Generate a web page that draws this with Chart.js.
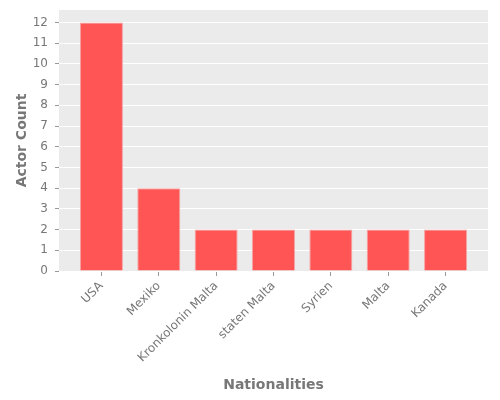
<!DOCTYPE html>
<html>
<head>
<meta charset="utf-8">
<script src="https://cdn.jsdelivr.net/npm/chart.js@4"></script>
<style>
  html, body { margin: 0; padding: 0; background: #fff; }
  #wrap { width: 500px; height: 400px; }
</style>
</head>
<body>
<div id="wrap"><canvas id="chart"></canvas></div>
<script>
const NATIONALITIES = ['USA', 'Mexiko', 'Kronkolonin Malta', 'staten Malta', 'Syrien', 'Malta', 'Kanada'];
const ACTOR_COUNTS = [12, 4, 2, 2, 2, 2, 2];
const Y_TICKS = [0, 1, 2, 3, 4, 5, 6, 7, 8, 9, 10, 11, 12];

const FONT = 'DejaVu Sans';
const tickColor = '#777777';
const titleColor = '#777777';

// grey panel behind the plot, ggplot style
const panelBg = {
  id: 'panelBg',
  beforeDraw(chart) {
    const { ctx, chartArea: a } = chart;
    ctx.save();
    ctx.fillStyle = '#EBEBEB';
    ctx.fillRect(a.left, a.top, a.right - a.left, a.bottom - a.top);
    ctx.restore();
  },
};

const points = ACTOR_COUNTS.map((v, i) => ({ x: i, y: v }));

new Chart(document.getElementById('chart'), {
  type: 'bar',
  data: {
    datasets: [
      {
        label: 'Actor Count',
        data: points,
        backgroundColor: '#FF5555',
        borderColor: '#F7A3A3',
        borderWidth: 1,
        categoryPercentage: 1,
        barPercentage: 0.75,
      },
    ],
  },
  options: {
    responsive: true,
    maintainAspectRatio: false,
    animation: false,
    layout: { padding: { left: 0, top: 10, right: 12, bottom: 0 } },
    plugins: {
      legend: { display: false },
      tooltip: { enabled: false },
    },
    scales: {
      x: {
        type: 'linear',
        offset: false,
        min: -0.74,
        max: 6.74,
        afterBuildTicks: (axis) => {
          axis.ticks = NATIONALITIES.map((_, i) => ({ value: i }));
        },
        afterFit: (axis) => {
          axis.height = 129;
          axis.paddingLeft = 0;
          axis.paddingRight = 0;
        },
        border: { display: false },
        grid: { offset: false, drawOnChartArea: false, color: '#999999', tickLength: 5 },
        ticks: {
          autoSkip: false,
          minRotation: 45,
          maxRotation: 45,
          padding: 3,
          color: tickColor,
          font: { family: FONT, size: 12 },
          callback: (value) => NATIONALITIES[value] ?? '',
        },
        title: {
          display: true,
          text: 'Nationalities',
          color: titleColor,
          font: { family: FONT, size: 14, weight: 'bold' },
          padding: { top: 4, bottom: 6 },
        },
      },
      y: {
        min: 0,
        max: 12.6,
        afterBuildTicks: (axis) => {
          axis.ticks = Y_TICKS.map((v) => ({ value: v }));
        },
        afterFit: (axis) => {
          axis.width = 59;
          axis.paddingTop = 0;
          axis.paddingBottom = 0;
        },
        border: { display: false },
        grid: { color: '#FFFFFF', lineWidth: 1, tickColor: '#999999', tickLength: 4 },
        ticks: {
          padding: 7,
          color: tickColor,
          font: { family: FONT, size: 12 },
        },
        title: {
          display: true,
          text: 'Actor Count',
          color: titleColor,
          font: { family: FONT, size: 14, weight: 'bold' },
          padding: { top: 14, bottom: 4 },
        },
      },
    },
  },
  plugins: [panelBg],
});
</script>
</body>
</html>
